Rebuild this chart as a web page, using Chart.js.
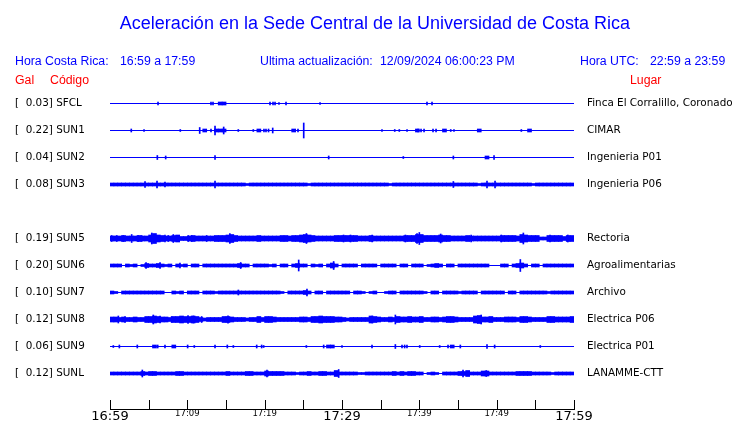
<!DOCTYPE html>
<html>
<head>
<meta charset="utf-8">
<script src="https://cdn.jsdelivr.net/npm/chart.js@4.4.1/dist/chart.umd.min.js"></script>
<style>
  body { margin: 0; background: #fff; }
  #wrap { position: relative; width: 740px; height: 423px; }
  #wrap canvas { position: absolute; left: 0; top: 0; }
  .txt { position: absolute; white-space: pre; font-family: "Liberation Sans", Arial, sans-serif; line-height: 1; }
  .blue { color: #0000ff; font-size: 12.3px; }
  .red { color: #ff0000; font-size: 12.3px; }
  #title { color: #0000ff; font-size: 18px; top: 14px; left: 0; width: 750px; text-align: center; }
</style>
</head>
<body>
<div id="wrap">
  <canvas id="seismo" width="740" height="423"></canvas>
  <div class="txt" id="title">Aceleración en la Sede Central de la Universidad de Costa Rica</div>
  <div class="txt blue" style="left:15px;top:55px">Hora Costa Rica:</div>
  <div class="txt blue" style="left:120px;top:55px">16:59 a 17:59</div>
  <div class="txt blue" style="left:260px;top:55px">Ultima actualización:</div>
  <div class="txt blue" style="left:380px;top:55px">12/09/2024 06:00:23 PM</div>
  <div class="txt blue" style="left:580px;top:55px">Hora UTC:</div>
  <div class="txt blue" style="left:650px;top:55px">22:59 a 23:59</div>
  <div class="txt red" style="left:15px;top:74px">Gal</div>
  <div class="txt red" style="left:50px;top:74px">Código</div>
  <div class="txt red" style="left:630px;top:74px">Lugar</div>
</div>
<script>
// stations top to bottom (SUN4 has no trace, its row stays empty)
const stations = ["SFCL", "SUN1", "SUN2", "SUN3", "SUN4", "SUN5", "SUN6", "SUN7", "SUN8", "SUN9", "SUNL"];
const galPeaks = [0.03, 0.22, 0.04, 0.08, null, 0.19, 0.20, 0.10, 0.12, 0.06, 0.12];
const places = ["Finca El Corralillo, Coronado", "CIMAR", "Ingenieria P01", "Ingenieria P06", "",
    "Rectoria", "Agroalimentarias", "Archivo", "Electrica P06", "Electrica P01", "LANAMME-CTT"];
const timeLabels = ["16:59", "17:09", "17:19", "17:29", "17:39", "17:49", "17:59"];

// envelope half-amplitude for each half minute (0 = quiet line only)
const sfclBand = [
    0,0,0,0,0,0,0,0,0,0, 0,0,0,0,0,0,0,0,0,0,
    0,0,0,0,0,0,0,0,1.5,1.5, 0,0,0,0,0,0,0,0,0,0,
    0,0,0,0,0,0,0,0,0,0, 0,0,0,0,0,0,0,0,0,0,
    0,0,0,0,0,0,0,0,0,0, 0,0,0,0,0,0,0,0,0,0,
    0,0,0,0,0,0,0,0,0,0, 0,0,0,0,0,0,0,0,0,0,
    0,0,0,0,0,0,0,0,0,0, 0,0,0,0,0,0,0,0,0,0];
const sun1Band = [
    0,0,0,0,0,0,0,0,0,0, 0,0,0,0,0,0,0,0,0,0,
    0,0,0,0,1.5,0,0,1.5,1.5,1.5, 0,0,0,0,0,0,0,0,1.5,0,
    0,0,0,0,0,0,0,1.5,0,0, 0,0,0,0,0,0,0,0,0,0,
    0,0,0,0,0,0,0,0,0,0, 0,0,0,0,0,0,0,0,0,1.5,
    0,0,0,0,0,0,1.5,0,0,0, 0,0,0,0,0,1.5,0,0,0,0,
    0,0,0,0,0,0,0,0,1.5,0, 0,0,0,0,0,0,0,0,0,0];
const sun2Band = [
    0,0,0,0,0,0,0,0,0,0, 0,0,0,0,0,0,0,0,0,0,
    0,0,0,0,0,0,0,0,0,0, 0,0,0,0,0,0,0,0,0,0,
    0,0,0,0,0,0,0,0,0,0, 0,0,0,0,0,0,0,0,0,0,
    0,0,0,0,0,0,0,0,0,0, 0,0,0,0,0,0,0,0,0,0,
    0,0,0,0,0,0,0,0,0,0, 0,0,0,0,0,0,0,1.5,0,0,
    0,0,0,0,0,0,0,0,0,0, 0,0,0,0,0,0,0,0,0,0];
const sun3Band = [
    1.5,1.5,1.5,1.5,1.5,1.5,1.5,1.5,1.5,1.5, 1.5,1.5,1.5,1.5,1.5,1.5,1.5,1.5,1.5,1.5,
    1.5,1.5,1.5,1.5,1.5,1.5,1.5,1.5,1.5,1.5, 1.5,1.5,1.5,1.5,1.5,1,1.5,1.5,1.5,1.5,
    1.5,1.5,1.5,1.5,1.5,1.5,1.5,1.5,1.5,1.5, 1.5,1,1.5,1.5,1.5,1.5,1.5,1.5,1.5,1.5,
    1.5,1.5,1.5,1.5,1.5,1.5,1.5,1.5,1.5,1.5, 1.5,1.5,1,1.5,1.5,1.5,1.5,1.5,1.5,1.5,
    1.5,1.5,1.5,1.5,1.5,1.5,1.5,1.5,1.5,1.5, 1.5,1.5,1.5,1.5,1.5,1,1.5,1.5,1.5,1.5,
    1.5,1.5,1.5,1.5,1.5,1.5,1.5,1.5,1.5,1, 1.5,1.5,1.5,1.5,1.5,1.5,1.5,1.5,1.5,1.5];
const sun4Band = [];
const sun5Band = [
    2.5,2.5,2.5,3,2.5,2.5,2.5,3,2.5,2.5, 3.5,5,3.5,3,2.5,2.5,3,3.5,2,2,
    2.5,3,2.5,2.5,2.5,2.5,2.5,3,3,3, 3.5,4,3,2.5,2.5,2.5,2.5,2.5,3,2.5,
    2.5,2.5,2.5,2.5,3,3,2.5,3,3,3.5, 4,3.5,3,2.5,2.5,2.5,2.5,2.5,3,3,
    3,3,3,3,2.5,2.5,2.5,3,2.5,2.5, 2.5,2.5,2.5,2.5,2.5,2.5,3,3,3,4,
    4,3,3,3,3,3.5,3,3,2.5,2.5, 2.5,2.5,3,2.5,2.5,2.5,2.5,2.5,2.5,2.5,
    2.5,3,3,3,3,2.5,4,3.5,3,3, 3,1.5,1.5,3,3,3,3,2,3,3];
const sun6Band = [
    1.5,1.5,1.5,0,1.5,1,1.5,0,1,2, 1.5,1.5,2,1.5,1,1.5,0,1.5,1,1.5,
    0,1.5,1.5,0,1.5,1.5,1.5,1.5,1.5,1.5, 1.5,1.5,1.5,2,1.5,1.5,0,1.5,1.5,1.5,
    1.5,1,1.5,0,1.5,1.5,0,1.5,2,1.5, 1.5,0,1.5,1,1.5,0,1.5,2.5,1.5,0,
    1.5,1.5,1.5,1.5,0,1.5,1.5,1.5,1.5,0, 1.5,1.5,1.5,1.5,0,1.5,1.5,0,1.5,1.5,
    1.5,0,1,1.5,2,1.5,0,1.5,1.5,0, 1.5,1.5,1.5,1.5,1.5,1.5,1.5,1.5,0,0,
    0,1.5,1.5,0,1.5,2,2.5,1.5,0,1.5, 1.5,0,1.5,1.5,1.5,1.5,1.5,1.5,1.5,1.5];
const sun7Band = [
    1.5,1,0,1.5,1.5,1.5,1.5,1.5,1.5,1.5, 1.5,1.5,1.5,1.5,0,0,1.5,1,1.5,0,
    1.5,1.5,1.5,0,1.5,1.5,1.5,1,1.5,1.5, 1.5,1.5,1.5,1.5,1.5,1.5,1.5,1.5,1.5,1.5,
    1.5,1.5,1.5,1.5,1,0,1.5,1.5,1.5,1.5, 2,1.5,0,1.5,1.5,0,1.5,1.5,1.5,1.5,
    1.5,1.5,0,1.5,1.5,1,0,1,1.5,0, 0,1,1.5,1.5,0,1.5,1.5,1.5,1.5,1.5,
    1.5,1,0,1.5,1.5,0,1.5,1.5,1.5,1.5, 1,1.5,1.5,1.5,1.5,0,1.5,1.5,1.5,1.5,
    1.5,1.5,0,1.5,1.5,0,1.5,1.5,1.5,1.5, 1.5,1.5,1.5,1,1.5,1.5,1.5,1.5,1.5,1.5];
const sun8Band = [
    2.5,2.5,2,2.5,2,2,2.5,2,2,3, 3,3.5,3,2.5,2.5,2,3,3,3.5,3,
    3,3.5,3,2,1.5,2,2,2,2,3, 3,2.5,2,2,2,1.5,2,2,3,2,
    3,3,2.5,2,2,2,2,2,2,2.5, 2.5,2,3,3,3.5,3,3,3,2.5,2.5,
    2,1.5,2,2,2,2,2,3.5,3,2.5, 2,2,2.5,2,3,2.5,2.5,3,2.5,2.5,
    3,2,2,2.5,2.5,2,2.5,3,3,2.5, 2,2,2,2,3.5,4,2.5,2.5,3,2,
    2,2,2.5,2.5,2.5,2,3,3,2.5,2, 2,2,2,3,3,2.5,2.5,2.5,2.5,3];
const sun9Band = [
    0,0,0,0,0,0,0,0,0,0, 0,1.5,0,0,0,0,1.5,0,0,0,
    0,0,0,0,0,0,0,0,0,0, 0,0,0,0,0,0,0,0,0,0,
    0,0,0,0,0,0,0,0,0,0, 0,0,0,0,0,0,1.5,1.5,0,0,
    0,0,0,0,0,0,0,0,0,0, 0,0,0,0,0,0,0,0,0,0,
    0,0,0,0,0,0,0,0,1.5,0, 0,0,0,0,0,0,0,0,0,0,
    0,0,0,0,0,0,0,0,0,0, 0,0,0,0,0,0,0,0,0,0];
const sunlBand = [
    1.5,1.5,1.5,1.5,1.5,1.5,1.5,1.5,2,1.5, 2,2,1.5,1.5,1.5,1.5,1.5,2,2,1.5,
    1.5,1.5,1.5,1.5,1.5,1.5,1.5,1.5,1.5,1.5, 2,1.5,1.5,1.5,1.5,2,2,1.5,1.5,1.5,
    2.5,2,2,2,2,1.5,1.5,1.5,1,1.5, 1.5,2,1.5,1.5,2,2,1.5,1.5,3,1.5,
    1.5,1.5,1.5,1.5,1,1,1.5,1.5,1.5,1.5, 1.5,1.5,1.5,2,1.5,2,1.5,2,2,1.5,
    1.5,0,1,1.5,1,0,1.5,1.5,1.5,1.5, 2,2,3,1.5,1.5,1.5,2.5,2.5,1.5,1.5,
    1.5,1.5,1.5,1.5,1.5,2,2,2,2,1.5, 1.5,1.5,1.5,1.5,1,1.5,1.5,1.5,1.5,1.5];

// narrow spikes: [minutes after 16:59, half-amplitude]
const sfclSpikes = [[6.21,1.5],[13.06,1.5],[13.32,1.5],[20.69,1.5],[21.08,1.5],[21.34,1.5],[21.85,1],[22.76,1.5],[27.16,1],[40.99,1.5],[41.64,1.5]];
const sun1Spikes = [[2.75,1.5],[4.40,1],[9.09,1],[11.60,3],[13.06,1.5],[13.58,4.5],[14.70,3.5],[16.59,1],[18.53,1],[19.91,1.5],[20.17,1.5],[20.50,1.5],[21.04,2.5],[24.31,1.5],[25.05,7.5],[35.17,1],[36.82,1],[37.41,1],[38.41,1],[39.83,1.5],[40.22,1.5],[40.61,1.5],[41.77,1.5],[42.16,1.5],[44.06,1],[44.48,1],[53.19,1]];
const sun2Spikes = [[6.12,2],[7.2,1.5],[13.58,2],[28.28,1.5],[37.93,1],[44.4,1.5],[49.66,2]];
const sun3Spikes = [[4.53,3],[6.08,3.5],[7.11,2.5],[13.58,3.5],[44.4,3],[48.75,3.5],[49.79,3.5]];
const sun4Spikes = [];
const sun5Spikes = [[0.22,3],[0.86,3],[1.72,3],[2.8,4],[3.66,3],[4.09,3],[5.4,5.5],[6.25,3],[7.11,3.5],[7.54,3],[8.19,4],[8.84,3],
    [10.13,3],[10.56,3],[12.5,3],[15.5,5],[25.4,5],[30.2,3.5],[31.1,3.5],[33.9,3.5],[38.2,3.5],[39.7,5],[40.0,6],
    [42.76,4.5],[46.7,3.5],[50.6,3.5],[53.45,5.5],[56.9,3.5],[59.2,3.5]];
const sun6Spikes = [[4.66,3],[6.47,3],[9.05,2.5],[16.9,3],[24.4,5.5],[28.92,4],[53.06,6]];
const sun7Spikes = [[16.6,2.5],[25.47,3.5]];
const sun8Spikes = [[1.08,3.5],[1.94,3],[5.6,4.5],[6.47,3.5],[7.97,3],[10.09,4],[10.78,3.5],[11.85,3],[15.26,3.7],[33.9,3.5],[36.9,4.5],[48.0,4.5]];
const sun9Spikes = [[0.43,1],[1.21,1.5],[3.53,1.5],[6.17,1.5],[7.11,1.5],[10.04,1.5],[10.9,1],[13.58,1.5],[15.17,1.5],[15.95,1],[18.97,1.5],[19.61,1.5],[19.87,1],[25.39,1],[27.63,1.5],[30.0,1],[33.88,1.5],[36.9,2],[37.76,1.5],[38.1,1.5],[38.4,1.5],[40.05,1],[42.63,1],[43.71,1.5],[45.3,1.5],[48.75,2],[49.74,1.5],[55.64,1]];
const sunlSpikes = [[4.18,3.5],[20.3,3.5],[29.57,4],[45.65,3.5],[48.66,3]];

const bands = [sfclBand, sun1Band, sun2Band, sun3Band, sun4Band, sun5Band, sun6Band, sun7Band, sun8Band, sun9Band, sunlBand];
const spikes = [sfclSpikes, sun1Spikes, sun2Spikes, sun3Spikes, sun4Spikes, sun5Spikes, sun6Spikes, sun7Spikes, sun8Spikes, sun9Spikes, sunlSpikes];

const SPAN = 60;      // minutes shown
const ROW = 27;       // vertical spacing between traces (y units)
const BLUE = "#0000ff";

let datasets = [];
stations.forEach((name, k) => {
    if (galPeaks[k] === null) return;
    const base = -k * ROW;
    const step = SPAN / bands[k].length;
    datasets.push({
        type: "line",
        data: [{ x: 0, y: base }, { x: SPAN, y: base }],
        borderColor: BLUE, borderWidth: 1, pointRadius: 0
    });
    datasets.push({
        type: "bar",
        data: bands[k].map((a, i) => ({ x: (i + 0.5) * step, y: [base - a, base + a] })).filter(d => d.y[1] > d.y[0]),
        backgroundColor: BLUE, barThickness: 4, grouped: false, borderWidth: 0
    });
    datasets.push({
        type: "bar",
        data: spikes[k].map(s => ({ x: s[0], y: [base - s[1], base + s[1]] })),
        backgroundColor: BLUE, barThickness: 1, grouped: false, borderWidth: 0
    });
});

// tick marks pointing up into the plot
const upTicks = {
    id: "upTicks",
    afterDraw(chart) {
        const s = chart.scales.x;
        const ctx = chart.ctx;
        ctx.save();
        ctx.strokeStyle = "#000";
        ctx.lineWidth = 1;
        s.ticks.forEach(t => {
            const px = Math.round(s.getPixelForValue(t.value)) + 0.5;
            ctx.beginPath();
            ctx.moveTo(px, s.top - 9);
            ctx.lineTo(px, s.top + 0.5);
            ctx.stroke();
        });
        ctx.restore();
    }
};

function rowTicks(scale) {
    scale.ticks = stations.flatMap((s, k) => galPeaks[k] === null ? [] : [{ value: -k * ROW }]);
}

// fixed box sizes; drop the label overhang padding so the plot keeps its height
function fixWidth(w) {
    return s => { s.width = w; s.paddingTop = 0; s.paddingBottom = 0; };
}

const labelFont = { family: "DejaVu Sans", size: 10.4 };

new Chart(document.getElementById("seismo"), {
    type: "bar",
    data: { datasets: datasets },
    plugins: [upTicks],
    options: {
        responsive: false,
        animation: false,
        layout: { padding: { top: 90, left: 15, right: 0, bottom: 0 } },
        plugins: { legend: { display: false }, tooltip: { enabled: false } },
        scales: {
            x: {
                type: "linear", min: 0, max: SPAN, offset: false,
                grid: { display: false, drawTicks: false, offset: false },
                border: { display: true, color: "#000", width: 1 },
                afterFit: s => { s.height = 14; s.paddingLeft = 0; s.paddingRight = 0; },
                ticks: {
                    stepSize: 5, autoSkip: false, maxRotation: 0, padding: 0, color: "#000",
                    font: c => ({ family: "DejaVu Sans", size: (c.tick && c.tick.value % 30 === 0) ? 13 : 8.5 }),
                    callback: v => v % 10 === 0 ? timeLabels[v / 10] : ""
                }
            },
            y: {
                position: "left", min: -10 * ROW - 35.5, max: 13.5,
                grid: { display: false, drawTicks: false },
                border: { display: false },
                afterFit: fixWidth(95),
                afterBuildTicks: rowTicks,
                ticks: {
                    autoSkip: false, crossAlign: "far", padding: 0, color: "#000", font: labelFont,
                    callback: v => {
                        const k = Math.round(-v / ROW);
                        return "[  " + galPeaks[k].toFixed(2) + "] " + stations[k];
                    }
                }
            },
            y2: {
                position: "right", min: -10 * ROW - 35.5, max: 13.5,
                grid: { display: false, drawTicks: false },
                border: { display: false },
                afterFit: fixWidth(166),
                afterBuildTicks: rowTicks,
                ticks: {
                    autoSkip: false, crossAlign: "near", padding: 13, color: "#000", font: labelFont,
                    callback: v => places[Math.round(-v / ROW)]
                }
            }
        }
    }
});
</script>
</body>
</html>
